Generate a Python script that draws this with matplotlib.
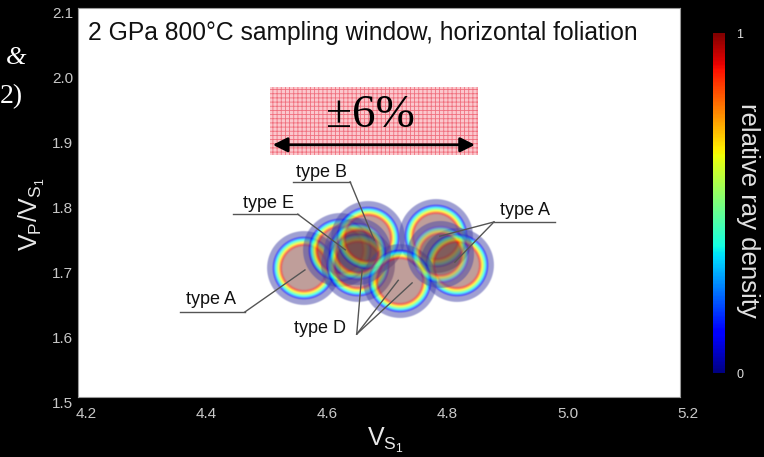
import numpy as np
import matplotlib
matplotlib.use('Agg')
import matplotlib.pyplot as plt
from matplotlib import transforms
from matplotlib.patches import Rectangle, FancyArrowPatch
from matplotlib.cm import ScalarMappable
from matplotlib.colors import Normalize

plt.rcParams['font.family'] = ['Liberation Sans', 'DejaVu Sans']
plt.rcParams['mathtext.fontset'] = 'custom'
plt.rcParams['mathtext.rm'] = 'Liberation Sans'
plt.rcParams['mathtext.it'] = 'Liberation Sans'
plt.rcParams['hatch.linewidth'] = 0.6

# ---------------- data ----------------
xticks = [4.2, 4.4, 4.6, 4.8, 5.0, 5.2]
xtick_labels = ['4.2', '4.4', '4.6', '4.8', '5.0', '5.2']
yticks = [1.5, 1.6, 1.7, 1.8, 1.9, 2.0, 2.1]
ytick_labels = ['1.5', '1.6', '1.7', '1.8', '1.9', '2.0', '2.1']

# sampling-window circles (Vs1, Vp/Vs1), drawing order
circle_x = [4.575, 4.635, 4.665, 4.682, 4.795, 4.830, 4.735, 4.663, 4.801]
circle_y = [1.699, 1.727, 1.704, 1.745, 1.748, 1.704, 1.679, 1.724, 1.719]
circle_kind = ['ring', 'ring', 'ring', 'ring', 'ring', 'ring', 'ring', 'dark', 'dark']

# annotation labels: text position, underline (x0, x1, y), leader targets
labels = ['type B', 'type E', 'type A', 'type D', 'type A']
label_x = [4.605, 4.516, 4.421, 4.602, 4.943]
label_y = [1.847, 1.798, 1.650, 1.606, 1.788]
under_x0 = [4.557, 4.457, 4.369, None, 4.891]
under_x1 = [4.652, 4.565, 4.477, None, 4.992]
under_y = [1.832, 1.782, 1.631, None, 1.770]
leader_from = [(4.652, 1.832), (4.565, 1.782), (4.477, 1.631), (4.663, 1.597), (4.891, 1.770)]
leader_to = [[(4.692, 1.742)],
             [(4.644, 1.727)],
             [(4.577, 1.696)],
             [(4.672, 1.696), (4.732, 1.680), (4.755, 1.676)],
             [(4.801, 1.748), (4.826, 1.708)]]

window_box_x = [4.519, 4.864]
window_box_y = [1.873, 1.978]
arrow_y = 1.889
window_text = '±6%'

# ---------------- figure ----------------
W, H = 764, 457
fig = plt.figure(figsize=(W / 100, H / 100), dpi=100, facecolor='black')
ax = fig.add_axes([78 / W, 1 - 397 / H, 602 / W, 389 / H])
ax.set_xlim(4.2, 5.2)
ax.set_ylim(1.5, 2.1)
ax.set_facecolor('white')
for s in ax.spines.values():
    s.set_color('#999999')
    s.set_linewidth(0.8)
ax.set_xticks(xticks)
ax.set_xticklabels(xtick_labels)
ax.set_yticks(yticks)
ax.set_yticklabels(ytick_labels)
ax.tick_params(length=0, colors='#c8c8c8', labelsize=11)
for lab in ax.get_xticklabels():
    lab.set_transform(lab.get_transform() + transforms.ScaledTranslation(0.08, -0.05, fig.dpi_scale_trans))
for lab in ax.get_yticklabels():
    lab.set_transform(lab.get_transform() + transforms.ScaledTranslation(0.0, -0.05, fig.dpi_scale_trans))

# ---------------- circles ----------------
jet = plt.get_cmap('jet')
N = 241
g = np.linspace(-1, 1, N)
XX, YY = np.meshgrid(g, g)
T = np.sqrt(XX ** 2 + YY ** 2)


def smooth(a, b, t):
    s = np.clip((t - a) / (b - a), 0, 1)
    return s * s * (3 - 2 * s)


def profile(kind):
    rgba = np.zeros((N, N, 4))
    if kind == 'ring':
        inner = np.array([0.50, 0.24, 0.21, 0.50])
        ring_alpha = 0.68
    else:
        inner = np.array([0.32, 0.27, 0.30, 0.38])
        ring_alpha = 0.40
    outer = np.array([0.28, 0.28, 0.66, 0.52])
    # jet ring between ~0.60 (red) and ~0.82 (blue)
    v = 0.90 - 0.80 * np.clip((T - 0.60) / (0.82 - 0.60), 0, 1)
    jc = jet(v)
    jc[..., 3] = ring_alpha
    w_in = 1 - smooth(0.54, 0.63, T)
    w_out = smooth(0.80, 0.86, T)
    w_jet = np.clip(1 - w_in - w_out, 0, 1)
    for c in range(4):
        rgba[..., c] = inner[c] * w_in + jc[..., c] * w_jet + outer[c] * w_out
    rgba[..., 3] *= 1 - smooth(0.95, 1.0, T)
    rgba[T > 1.0, 3] = 0
    return rgba


fig.canvas.draw()
sx = ax.bbox.width / (ax.get_xlim()[1] - ax.get_xlim()[0])
sy = ax.bbox.height / (ax.get_ylim()[1] - ax.get_ylim()[0])
R_px = 38
rx, ry = R_px / sx, R_px / sy
imgs = {k: profile(k) for k in set(circle_kind)}
for cx, cy, k in zip(circle_x, circle_y, circle_kind):
    f = 1.0 if k == 'ring' else 0.9
    ax.imshow(imgs[k], extent=[cx - rx * f, cx + rx * f, cy - ry * f, cy + ry * f], origin='lower',
              interpolation='bilinear', aspect='auto', zorder=2)
ax.set_xlim(4.2, 5.2)
ax.set_ylim(1.5, 2.1)

# ---------------- annotations ----------------
lc = '#555555'
for i, lab in enumerate(labels):
    ax.text(label_x[i], label_y[i], lab, fontsize=13, ha='center', va='center', color='#111111', zorder=5)
    if under_x0[i] is not None:
        ax.plot([under_x0[i], under_x1[i]], [under_y[i], under_y[i]], color=lc, lw=1.0, zorder=4)
    fx, fy = leader_from[i]
    for tx, ty in leader_to[i]:
        ax.plot([fx, tx], [fy, ty], color=lc, lw=1.0, zorder=4)

# sampling-window box
ax.add_patch(Rectangle((window_box_x[0], window_box_y[0]), window_box_x[1] - window_box_x[0],
                       window_box_y[1] - window_box_y[0], facecolor='#fbc8cd',
                       edgecolor='#f0707e', hatch='++++', lw=0, zorder=3))
ax.add_patch(FancyArrowPatch((window_box_x[0], arrow_y), (window_box_x[1], arrow_y),
                             arrowstyle='<|-|>', mutation_scale=22, lw=2, color='black', zorder=4))
ax.text(np.mean(window_box_x) - 0.005, 1.934, window_text, fontsize=34, ha='center', va='center',
        family=['Liberation Serif', 'DejaVu Serif'], color='black', zorder=5)

ax.text((88 - 78) / 602, 1 - (33 - 8) / 389, '2 GPa 800°C sampling window, horizontal foliation',
        transform=ax.transAxes, fontsize=17.7, ha='left', va='center', color='#111111')

# axis labels
fig.text(32 / W, 1 - 214 / H, r'$\mathregular{V_P/V_{S_1}}$', rotation=90, fontsize=18,
         ha='center', va='center', color='#e8e8e8')
fig.text(385 / W, 1 - 440 / H, r'$\mathregular{V_{S_1}}$', fontsize=18,
         ha='center', va='center', color='#e8e8e8')

# colorbar
cax = fig.add_axes([713 / W, 1 - 373 / H, 12 / W, 340 / H])
cb = fig.colorbar(ScalarMappable(norm=Normalize(0, 1), cmap='jet'), cax=cax, ticks=[0, 1])
cb.outline.set_visible(False)
cax.tick_params(length=0, colors='#e0e0e0', labelsize=9, pad=8)
cax.set_yticklabels(['0', '1'])
fig.text(748 / W, 1 - 210 / H, 'relative ray density', rotation=270, fontsize=18.5,
         ha='center', va='center', color='#e0e0e0')

# cut-off caption fragments at left edge
fig.text(16 / W, 1 - 58 / H, '&', fontsize=19, ha='center', va='center', color='white',
         family=['Liberation Serif', 'DejaVu Serif'], style='italic')
fig.text(23 / W, 1 - 97 / H, '2)', fontsize=20, ha='right', va='center', color='white',
         family=['Liberation Serif', 'DejaVu Serif'])

fig.savefig('out.png', dpi=100, facecolor='black')
